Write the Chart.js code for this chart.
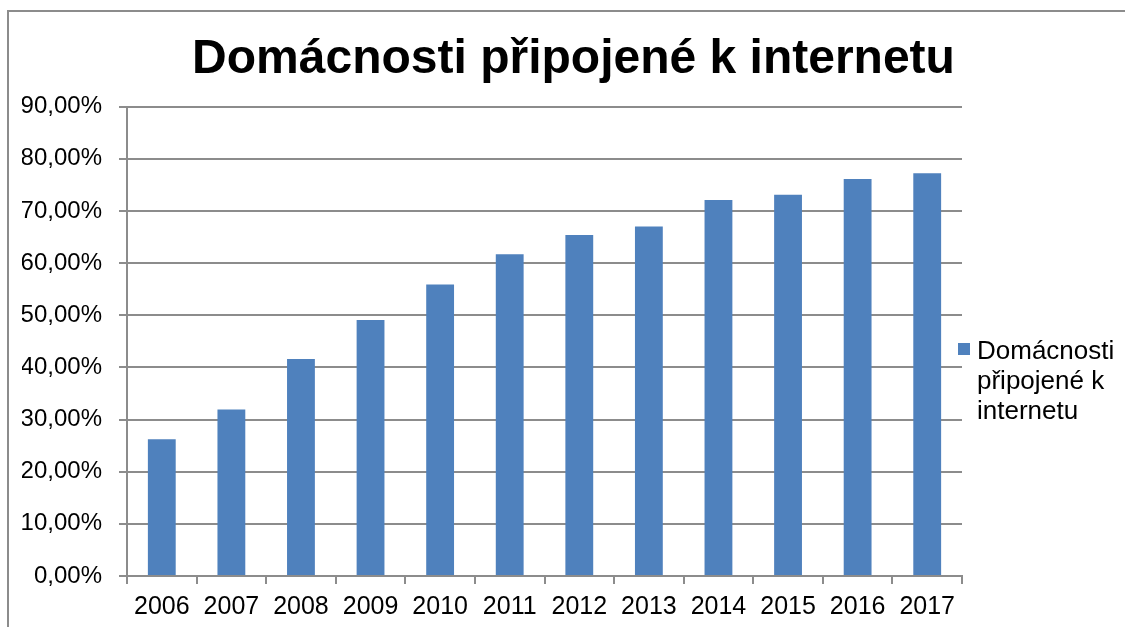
<!DOCTYPE html>
<html>
<head>
<meta charset="utf-8">
<title>Domácnosti připojené k internetu</title>
<script src="https://cdn.jsdelivr.net/npm/chart.js@4/dist/chart.umd.min.js"></script>
<style>
    html, body { margin: 0; padding: 0; background: #ffffff; }
    #wrap { position: relative; width: 1125px; height: 627px; overflow: hidden; background: #ffffff; }
    #frame {
        position: absolute; left: 7px; top: 10px; right: -4px; bottom: -4px;
        border-left: 2px solid #8c8c8c; border-top: 2px solid #8c8c8c;
        pointer-events: none;
    }
    #internetChart { position: absolute; left: 0; top: 0; }
    #legend {
        position: absolute; left: 958px; top: 335px; width: 165px;
        font-family: "Liberation Sans", Arial, sans-serif; font-size: 26px; line-height: 30px; color: #000;
    }
    #legend .item { position: relative; padding-left: 19px; }
    #legend .box { position: absolute; left: 0; top: 8px; width: 12px; height: 12px; }
</style>
</head>
<body>
<div id="wrap">
    <div id="frame"></div>
    <canvas id="internetChart" width="1125" height="627"></canvas>
    <div id="legend"></div>
</div>
<script>
const years = ['2006', '2007', '2008', '2009', '2010', '2011', '2012', '2013', '2014', '2015', '2016', '2017'];
const households = [26.2, 31.9, 41.6, 49.1, 55.9, 61.7, 65.4, 67.0, 72.1, 73.1, 76.1, 77.2];
const seriesName = 'Domácnosti připojené k internetu';
const chartTitle = 'Domácnosti připojené k internetu';
const yTicks = [0, 10, 20, 30, 40, 50, 60, 70, 80, 90];

const barColor = '#4f81bd';
const lineColor = '#8c8c8c';
const fontFamily = '"Liberation Sans", Arial, sans-serif';

Chart.defaults.font.family = fontFamily;
Chart.defaults.color = '#000000';

function formatPercent(v) {
    return v.toFixed(2).replace('.', ',') + '%';
}

const ctx = document.getElementById('internetChart').getContext('2d');

const chart = new Chart(ctx, {
    type: 'bar',
    data: {
        labels: years,
        datasets: [{
            label: seriesName,
            data: households,
            backgroundColor: barColor,
            borderWidth: 0,
            barPercentage: 0.4,
            categoryPercentage: 1.0
        }]
    },
    options: {
        responsive: false,
        animation: false,
        layout: { padding: { left: 22, right: 0, top: 0, bottom: 0 } },
        plugins: {
            legend: { display: false },
            tooltip: { enabled: false },
            title: {
                display: true,
                text: chartTitle,
                color: '#000000',
                font: { size: 48, weight: 'bold', family: fontFamily, lineHeight: 1.2 },
                padding: { top: 31, bottom: 18 }
            }
        },
        scales: {
            x: {
                grid: {
                    drawOnChartArea: false,
                    offset: true,
                    color: lineColor,
                    lineWidth: 2,
                    tickLength: 8
                },
                border: { color: lineColor, width: 2 },
                ticks: {
                    font: { size: 25 },
                    padding: 8,
                    maxRotation: 0,
                    autoSkip: false
                },
                afterFit: function (scale) { scale.height = 51; }
            },
            y: {
                min: 0,
                max: 90,
                afterBuildTicks: function (scale) {
                    scale.ticks = yTicks.map(v => ({ value: v }));
                },
                grid: { color: lineColor, lineWidth: 2, tickLength: 8 },
                border: { color: lineColor, width: 2 },
                ticks: {
                    font: { size: 24 },
                    padding: 17,
                    callback: v => formatPercent(v)
                },
                afterFit: function (scale) { scale.width = 105; }
            },
            legendSpace: {
                type: 'linear',
                position: 'right',
                display: true,
                grid: { display: false },
                border: { display: false },
                ticks: { display: false },
                afterFit: function (scale) { scale.width = 163; }
            }
        }
    }
});

// legend built from the dataset so the label can wrap like in the original
const legendEl = document.getElementById('legend');
chart.data.datasets.forEach(ds => {
    const item = document.createElement('div');
    item.className = 'item';
    item.innerHTML = `<span class="box" style="background:${ds.backgroundColor}"></span>Domácnosti<br>připojené k<br>internetu`;
    legendEl.appendChild(item);
});
</script>
</body>
</html>
